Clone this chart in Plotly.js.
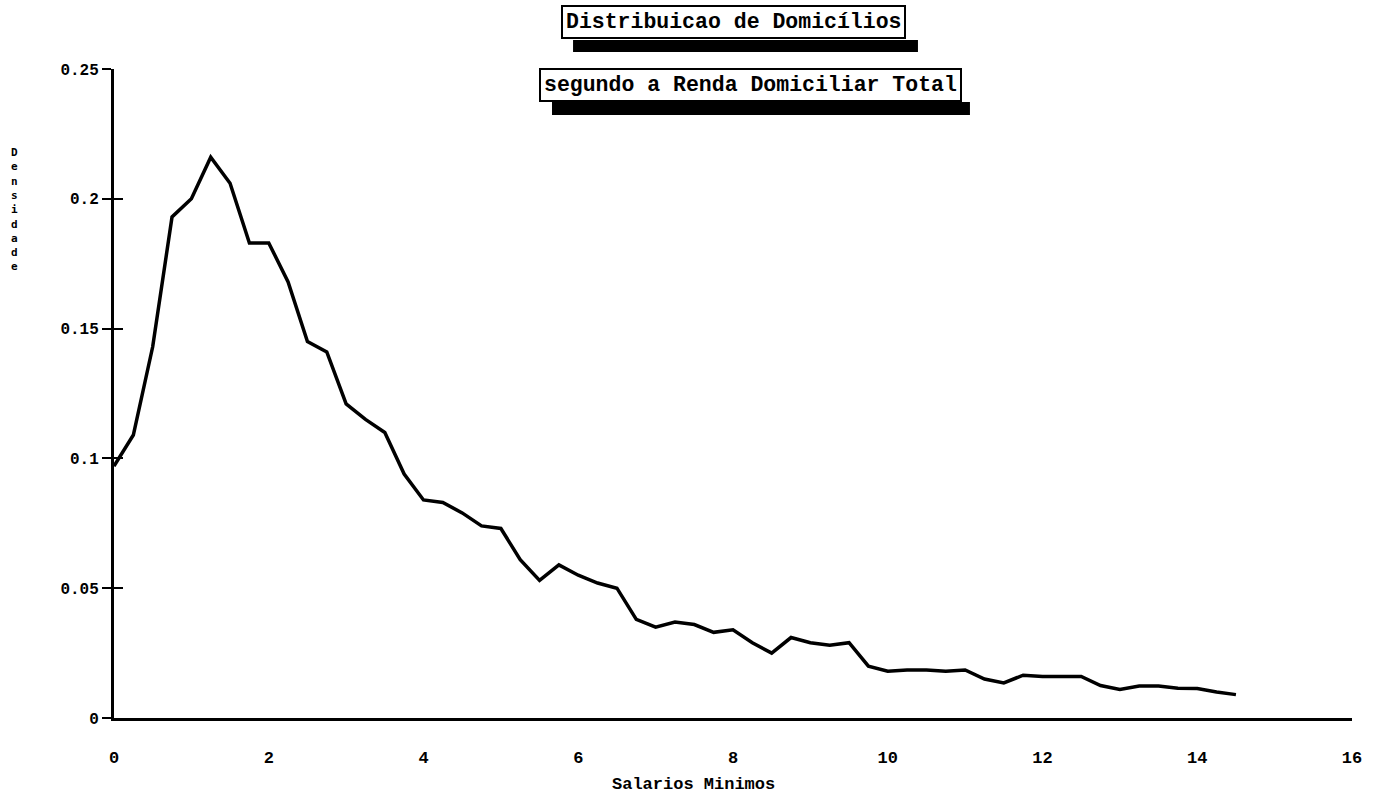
<!DOCTYPE html>
<html>
<head>
<meta charset="utf-8">
<script src="https://cdn.plot.ly/plotly-3.0.1.min.js"></script>
<style>html,body{margin:0;padding:0;background:#fff;}</style>
</head>
<body>
<div id="chart" style="width:1373px;height:803px;"></div>
<script>
// Data (salários mínimos vs densidade)
const salarios = [0, 0.25, 0.5, 0.75, 1.0, 1.25, 1.5, 1.75, 2.0, 2.25, 2.5, 2.75, 3.0, 3.25, 3.5, 3.75,
  4.0, 4.25, 4.5, 4.75, 5.0, 5.25, 5.5, 5.75, 6.0, 6.25, 6.5, 6.75, 7.0, 7.25, 7.5, 7.75,
  8.0, 8.25, 8.5, 8.75, 9.0, 9.25, 9.5, 9.75, 10.0, 10.25, 10.5, 10.75, 11.0, 11.25, 11.5, 11.75,
  12.0, 12.25, 12.5, 12.75, 13.0, 13.25, 13.5, 13.75, 14.0, 14.25, 14.5];
const densidade = [0.097, 0.109, 0.143, 0.193, 0.200, 0.216, 0.206, 0.183, 0.183, 0.168, 0.145, 0.141, 0.121, 0.115, 0.110, 0.094,
  0.084, 0.083, 0.079, 0.074, 0.073, 0.061, 0.053, 0.059, 0.055, 0.052, 0.050, 0.038, 0.035, 0.037, 0.036, 0.033,
  0.034, 0.029, 0.025, 0.031, 0.029, 0.028, 0.029, 0.020, 0.018, 0.0185, 0.0185, 0.018, 0.0185, 0.015, 0.0135, 0.0165,
  0.016, 0.016, 0.016, 0.0125, 0.011, 0.0123, 0.0123, 0.0115, 0.0114, 0.010, 0.009];
const yTicks = [0, 0.05, 0.1, 0.15, 0.2, 0.25];
const xTicks = [0, 2, 4, 6, 8, 10, 12, 14, 16];
const titulo1 = "Distribuicao de Domicílios";
const titulo2 = "segundo a Renda Domiciliar Total";
const tituloX = "Salarios Minimos";
const tituloY = "Densidade";

const FONT = "Liberation Mono, DejaVu Sans Mono, monospace";

const trace = {
  x: salarios, y: densidade, type: 'scatter', mode: 'lines',
  line: {color: '#000', width: 3.5},
  hoverinfo: 'x+y', showlegend: false
};
// invisible helper trace so the overlaying axis exists (gives cross-shaped ticks)
const helper = {x: [0], y: [0], yaxis: 'y2', type: 'scatter', mode: 'markers',
  marker: {opacity: 0}, showlegend: false, hoverinfo: 'skip'};

const layout = {
  width: 1373, height: 803,
  margin: {l: 114, r: 21, t: 69, b: 85},
  paper_bgcolor: '#fff', plot_bgcolor: '#fff',
  showlegend: false,
  font: {family: FONT, color: '#000'},
  xaxis: {
    range: [0, 16], tickvals: xTicks, ticktext: xTicks.map(String),
    showgrid: false, zeroline: false, showline: true, linecolor: '#000', linewidth: 3,
    ticks: '', ticklabelstandoff: 22,
    tickfont: {family: FONT, size: 17, color: '#000', weight: 'bold'}
  },
  yaxis: {
    range: [0, 0.25], tickvals: yTicks,
    showgrid: false, zeroline: false, showline: true, linecolor: '#000', linewidth: 3,
    ticks: 'outside', ticklen: 9, tickwidth: 2, tickcolor: '#000',
    tickfont: {family: FONT, size: 16, color: '#000', weight: 'bold'}
  },
  yaxis2: {
    range: [0, 0.25], tickvals: yTicks, overlaying: 'y', side: 'left',
    showgrid: false, zeroline: false, showline: false, showticklabels: false,
    ticks: 'inside', ticklen: 9, tickwidth: 2, tickcolor: '#000'
  },
  shapes: [
    {type: 'rect', xref: 'paper', yref: 'paper', x0: 0.3708, x1: 0.6494, y0: 1.0262, y1: 1.0447,
     fillcolor: '#000', line: {width: 0}},
    {type: 'rect', xref: 'paper', yref: 'paper', x0: 0.3538, x1: 0.6914, y0: 0.9291, y1: 0.9492,
     fillcolor: '#000', line: {width: 0}}
  ],
  annotations: [
    {text: titulo1, xref: 'paper', yref: 'paper', x: 0.5008, y: 1.0717, xanchor: 'center', yanchor: 'middle',
     showarrow: false, bgcolor: '#fff', bordercolor: '#000', borderwidth: 2, borderpad: 3,
     font: {family: FONT, size: 21.5, color: '#000', weight: 'bold'}},
    {text: titulo2, xref: 'paper', yref: 'paper', x: 0.5138, y: 0.9753, xanchor: 'center', yanchor: 'middle',
     showarrow: false, bgcolor: '#fff', bordercolor: '#000', borderwidth: 2, borderpad: 3,
     font: {family: FONT, size: 21.5, color: '#000', weight: 'bold'}},
    {text: tituloX, xref: 'paper', yref: 'paper', x: 0.4677, y: -0.103, xanchor: 'center', yanchor: 'middle',
     showarrow: false, font: {family: FONT, size: 17, color: '#000', weight: 'bold'}},
    // vertical stacked y-axis title, one letter per line
    {text: tituloY.split('').join('<br>'), xref: 'paper', yref: 'paper', x: -0.080, y: 0.784,
     xanchor: 'center', yanchor: 'middle', showarrow: false,
     font: {family: 'DejaVu Sans Mono, monospace', size: 11, color: '#000', weight: 'bold'}}
  ]
};

Plotly.newPlot('chart', [trace, helper], layout, {displayModeBar: false, staticPlot: true});
</script>
</body>
</html>
